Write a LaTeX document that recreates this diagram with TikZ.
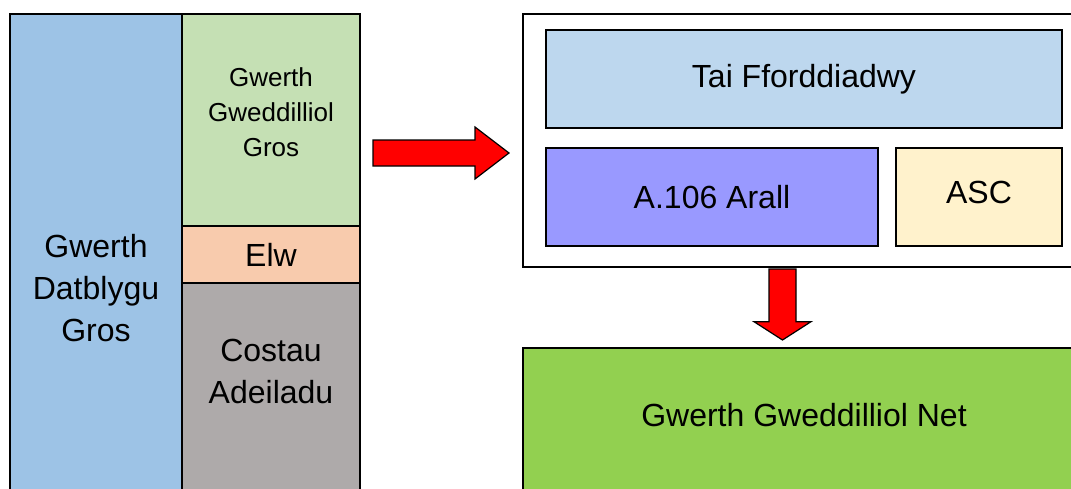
\documentclass[tikz,border=0pt]{standalone}
\usepackage{fontspec}
\setmainfont{Liberation Sans}
\usepackage{tikz}
\usetikzlibrary{positioning}
\definecolor{glas}{HTML}{9DC3E6}
\definecolor{gwyrddgolau}{HTML}{C5E0B4}
\definecolor{eog}{HTML}{F8CBAD}
\definecolor{llwyd}{HTML}{AEAAAA}
\definecolor{glasgolau}{HTML}{BDD7EE}
\definecolor{porffor}{HTML}{9999FF}
\definecolor{hufen}{HTML}{FFF2CC}
\definecolor{gwyrdd}{HTML}{92D050}
\begin{document}
\begin{tikzpicture}[x=1pt,y=-1pt,
blok/.style={
rectangle,
draw=black,
line width=1.6pt,
inner sep=0pt,
align=center,
font=\fontsize{32}{42}\selectfont
},
saeth/.style={fill=red,draw=black,line width=1.2pt,line join=miter},
]
\useasboundingbox (0,0) rectangle (1071,488);
\clip (0,0) rectangle (1071,488);
% colofn y chwith
\node (gros) [blok,fill=glas,minimum width=172,minimum height=549] at (96,288.5) {Gwerth\\Datblygu\\Gros};
\node (gweddilliol) [blok,fill=gwyrddgolau,minimum width=178,minimum height=212,font=\fontsize{26}{35}\selectfont,text depth=15.2pt] at (271,120) {Gwerth\\Gweddilliol\\Gros};
\node (elw) [blok,fill=eog,minimum width=178,minimum height=57] at (271,254.5) {Elw};
\node (costau) [blok,fill=llwyd,minimum width=178,minimum height=280,text depth=104.3pt] at (271,423) {Costau\\Adeiladu};
% ochr dde
\node (allanol) [blok,fill=white,minimum width=562,minimum height=253] at (804,140.5) {};
\node (tai) [blok,fill=glasgolau,minimum width=516,minimum height=98] at (804,79) {Tai Fforddiadwy};
\node (arall) [blok,fill=porffor,minimum width=332,minimum height=98] at (712,197) {A.106 Arall};
\node (asc) [blok,fill=hufen,minimum width=166,minimum height=98,text depth=9pt] at (979,197) {ASC};
\node (net) [blok,fill=gwyrdd,minimum width=562,minimum height=142,text depth=7.5pt] at (804,419) {Gwerth Gweddilliol Net};
% saethau
\draw[saeth] (373,140) -- (475,140) -- (475,127) -- (509,153) -- (475,179) -- (475,166) -- (373,166) -- cycle;
\draw[saeth] (769,269) -- (796,269) -- (796,321.7) -- (811,321.7) -- (782.5,340) -- (754,321.7) -- (769,321.7) -- cycle;
\end{tikzpicture}
\end{document}
